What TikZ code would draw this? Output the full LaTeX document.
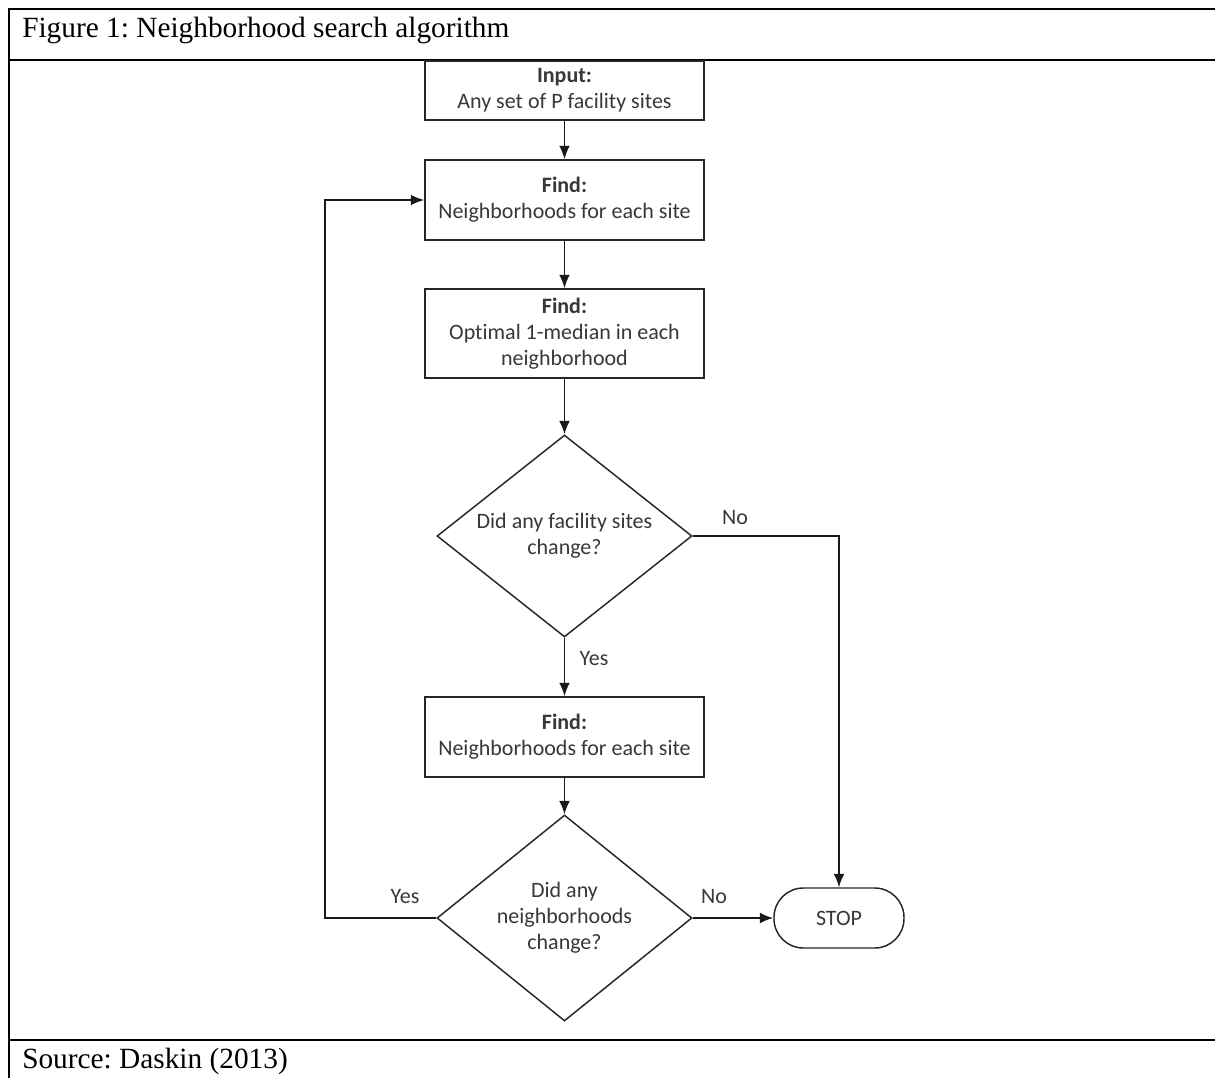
\documentclass[tikz,border=0pt]{standalone}
\usepackage{fontspec}
\setmainfont{Liberation Serif}
\newfontfamily\calfont[Ligatures=NoCommon]{Carlito}
\usetikzlibrary{shapes.geometric,arrows.meta}
\frenchspacing
\begin{document}
\begin{tikzpicture}[x=0.75pt,y=-0.75pt,
  frameline/.style={line width=1.9pt,black},
  flowfont/.style={font=\calfont\fontsize{16.5}{19.5}\selectfont},
  procbox/.style={flowfont,draw=black!85,line width=1.2pt,rectangle,fill=white,
    text=black!78,align=center,inner sep=0pt,minimum width=209.25pt},
  decision/.style={flowfont,draw=black!85,line width=1.1pt,diamond,aspect=1.26,fill=white,
    text=black!78,align=center,inner sep=0pt,minimum width=191.25pt},
  terminal/.style={flowfont,draw=black!85,line width=1.1pt,rectangle,rounded corners=22pt,
    text=black!78,align=center,inner sep=0pt,minimum width=97.5pt,minimum height=45pt},
  lbl/.style={flowfont,text=black!78,inner sep=0pt},
  conn/.style={draw=black!90,line width=1.2pt},
  arr/.style={conn,-{Latex[length=10pt,width=8pt]}},
  hd/.style={font=\fontsize{22}{26}\selectfont,inner sep=0pt,anchor=base west}
]
\useasboundingbox (0,0) rectangle (1215,1078);
% table frame
\draw[frameline] (1215,9) -- (9,9) -- (9,1078);
\draw[frameline] (9,60) -- (1215,60);
\draw[frameline] (9,1040) -- (1215,1040);
\node[hd] (title) at (22,37) {Figure 1: Neighborhood search algorithm};
\node[hd] (source) at (22,1068) {Source: Daskin (2013)};

% flowchart nodes
\node[procbox,minimum height=44.25pt] (b1) at (564.5,90.5) {\textbf{Input:}\\Any set of P facility sites};
\node[procbox,minimum height=60pt] (b2) at (564.5,200) {\textbf{Find:}\\Neighborhoods for each site};
\node[procbox,minimum height=66.75pt] (b3) at (564.5,333.5) {\textbf{Find:}\\Optimal 1-median in each\\neighborhood};
\node[decision,minimum height=151.5pt] (d1) at (564.5,536) {Did any facility sites\\change?};
\node[procbox,minimum height=60pt] (b4) at (564.5,737) {\textbf{Find:}\\Neighborhoods for each site};
\node[decision,minimum height=154.5pt] (d2) at (564.5,918) {Did any\\neighborhoods\\change?};
\node[terminal] (stop) at (839,918) {STOP};

% connectors
\draw[arr] (b1.south) -- (b2.north);
\draw[arr] (b2.south) -- (b3.north);
\draw[arr] (b3.south) -- (d1.north);
\draw[arr] (d1.south) -- (b4.north);
\draw[arr] (b4.south) -- (d2.north);
\draw[arr] (d1.east) -| (stop.north);
\draw[arr] (d2.east) -- (stop.west);
\coordinate (loop) at (325,918);
\draw[arr] (d2.west) -- (loop) |- (b2.west);

% labels
\node[lbl] (no1) at (735,518) {No};
\node[lbl] (yes1) at (594,659) {Yes};
\node[lbl] (no2) at (714,897) {No};
\node[lbl] (yes2) at (405,897) {Yes};
\end{tikzpicture}
\end{document}
